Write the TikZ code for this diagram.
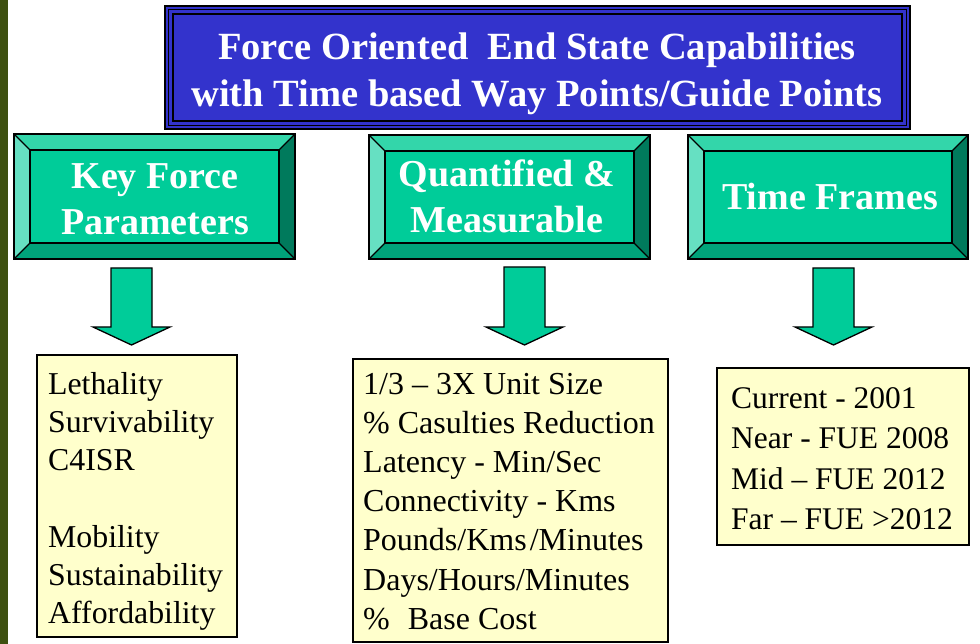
\documentclass[tikz,border=0pt]{standalone}
\usepackage{fontspec}
\setmainfont{Liberation Serif}
\usetikzlibrary{calc}
\definecolor{strip}{RGB}{62,80,16}
\definecolor{titleblue}{RGB}{51,51,204}
\definecolor{face}{RGB}{0,204,153}
\definecolor{bevT}{RGB}{51,214,170}
\definecolor{bevL}{RGB}{102,224,194}
\definecolor{bevR}{RGB}{0,122,92}
\definecolor{bevB}{RGB}{0,163,122}
\definecolor{note}{RGB}{255,255,204}
\tikzset{
  edge/.style={draw=black, line width=1.3pt, line join=miter},
  bevface/.style={fill=face, draw=black, line width=1.3pt, inner sep=0pt, outer sep=0pt},
  titlebox/.style={fill=titleblue, draw=black, line width=1.3pt, inner sep=0pt, outer sep=0pt},
  titletext/.style={text=white, inner sep=0pt, font=\fontsize{38.5}{47}\selectfont\bfseries},
  headtext/.style={text=white, inner sep=0pt, font=\fontsize{38}{45.5}\selectfont\bfseries},
  notebox/.style={fill=note, draw=black, line width=1.2pt, inner sep=0pt, outer sep=0pt},
  blockarrow/.style={fill=face, draw=black, line width=1.3pt, line join=miter},
}
\newcommand\bevelbox[5]{%
  \fill[bevT] (#2,#3) -- (#4,#3) -- (#4-16,#3+16) -- (#2+16,#3+16) -- cycle;
  \fill[bevB] (#2,#5) -- (#4,#5) -- (#4-16,#5-16) -- (#2+16,#5-16) -- cycle;
  \fill[bevL] (#2,#3) -- (#2+16,#3+16) -- (#2+16,#5-16) -- (#2,#5) -- cycle;
  \fill[bevR] (#4,#3) -- (#4-16,#3+16) -- (#4-16,#5-16) -- (#4,#5) -- cycle;
  \node[bevface, minimum width={#4-#2-32}, minimum height={#5-#3-32}, anchor=north west] (#1) at (#2+16,#3+16) {};
  \draw[edge] (#2,#3) rectangle (#4,#5);
  \draw[edge] (#2,#3) -- (#1.north west) (#4,#3) -- (#1.north east)
              (#2,#5) -- (#1.south west) (#4,#5) -- (#1.south east);
}
\newcommand\blockdown[3]{% name, center x, top y (shaft)
  \coordinate (#1) at (#2,#3);
  \filldraw[blockarrow] ($(#1)+(-20.5,0)$) -- ($(#1)+(20.5,0)$) -- ($(#1)+(20.5,327-#3)$)
     -- ($(#1)+(38.5,327-#3)$) -- ($(#1)+(0,345-#3)$) -- ($(#1)+(-38.5,327-#3)$)
     -- ($(#1)+(-20.5,327-#3)$) -- cycle;
}
\begin{document}
\begin{tikzpicture}[x=1pt,y=-1pt]
\useasboundingbox (0,0) rectangle (980,644);
\fill[white] (0,0) rectangle (980,644);
\fill[strip] (0,0) rectangle (8,644);

% title
\node[titlebox, minimum width=745, minimum height=123, anchor=north west] (title) at (165,6) {};
\draw[black, line width=1.3pt] ($(title.north west)+(3.7,3.7)$) rectangle ($(title.south east)+(-3.7,-3.7)$);
\draw[black, line width=1.3pt] ($(title.north west)+(8,8)$) rectangle ($(title.south east)+(-8,-8)$);
\node[titletext, anchor=base] (titletxt) at (537,59.5)
  {\begin{tabular}[t]{@{}c@{}}Force Oriented\ \ End State Capabilities\\with Time based Way Points/Guide Points\end{tabular}};

% bevel boxes
\bevelbox{kfp}{14}{134}{295}{259}
\bevelbox{qm}{369}{135}{650}{259}
\bevelbox{tf}{688}{135}{968}{259}
\node[headtext, anchor=base] (kfptxt) at (155,189)
  {\begin{tabular}[t]{@{}c@{}}Key Force\\Parameters\end{tabular}};
\node[headtext, anchor=base] (qmtxt) at (507,187)
  {\begin{tabular}[t]{@{}c@{}}Quantified \&\\Measurable\end{tabular}};
\node[headtext, anchor=base] (tftxt) at (830,210) {Time Frames};

% arrows
\blockdown{a1}{131.5}{268}
\blockdown{a2}{524.5}{267}
\blockdown{a3}{833.5}{268}

% note boxes
\node[notebox, minimum width=200, minimum height=282, anchor=north west] (lbox) at (37,355) {};
\node[notebox, minimum width=315, minimum height=283, anchor=north west] (mbox) at (353,359) {};
\node[notebox, minimum width=252, minimum height=177, anchor=north west] (rbox) at (717,368) {};

\node[inner sep=0pt, anchor=base west, font=\fontsize{31.8}{38.3}\selectfont] (ltxt) at (48,394)
  {\begin{tabular}[t]{@{}l@{}}Lethality\\Survivability\\C4ISR\\ \\Mobility\\Sustainability\\Affordability\end{tabular}};
\node[inner sep=0pt, anchor=base west, font=\fontsize{32}{39.2}\selectfont] (mtxt) at (363,394)
  {\begin{tabular}[t]{@{}l@{}}1/3 – 3X Unit Size\\\% Casulties Reduction\\Latency - Min/Sec\\Connectivity - Kms\\Pounds/Kms\kern3pt/Minutes\\Days/Hours/Minutes\\\%\hspace{18pt}Base Cost\end{tabular}};
\node[inner sep=0pt, anchor=base west, font=\fontsize{31.5}{40.5}\selectfont] (rtxt) at (731,408)
  {\begin{tabular}[t]{@{}l@{}}Current - 2001\\Near - FUE 2008\\Mid – FUE 2012\\Far – FUE >2012\end{tabular}};
\end{tikzpicture}
\end{document}
